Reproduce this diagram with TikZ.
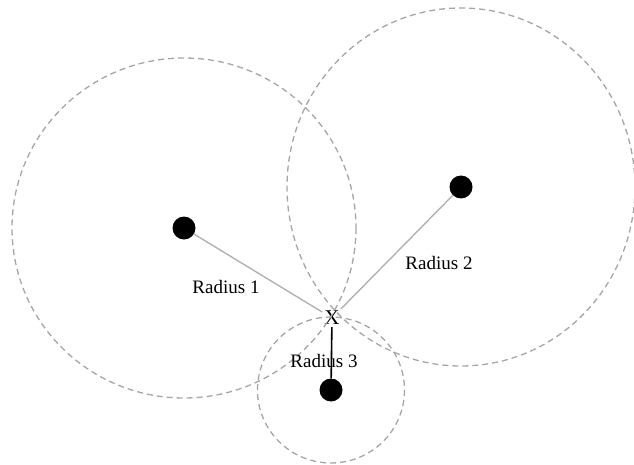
\documentclass[tikz,border=0pt]{standalone}
\usepackage{fontspec}
\setmainfont{Liberation Serif}
\begin{document}
\begin{tikzpicture}[x=1pt,y=-1pt,
  dot/.style={circle,fill=black,inner sep=0pt,minimum size=23pt},
  ring/.style={draw=black!35,dashed,dash pattern=on 6pt off 4pt,line width=1.3pt},
  radline/.style={draw=black!30,line width=1.4pt},
  lbl/.style={font=\fontsize{19}{21}\selectfont,inner sep=1pt},
  xlbl/.style={font=\fontsize{21}{23}\selectfont,inner sep=2pt}]
\useasboundingbox (0,0) rectangle (634,465);
\clip (0,0) rectangle (634,465);
\fill[white] (0,0) rectangle (634,465);
\node[dot] (d1) at (184,228) {};
\node[dot] (d2) at (461,187) {};
\node[dot] (d3) at (331,390) {};
\node[xlbl] (x) at (332,318) {X};
\draw[ring] (d1.center) ellipse[x radius=172, y radius=170];
\draw[ring] (d2.center) ellipse[x radius=174, y radius=179];
\draw[ring] (d3.center) ellipse[x radius=73.5, y radius=73];
\draw[radline] (d1) -- (x);
\draw[radline] (d2) -- (x);
\node[lbl] (l1) at (226,287) {Radius 1};
\node[lbl] (l2) at (439,263) {Radius 2};
\node[lbl] (l3) at (324,361) {Radius 3};
\draw[line width=1.6pt] (x) -- (d3);
\end{tikzpicture}
\end{document}
